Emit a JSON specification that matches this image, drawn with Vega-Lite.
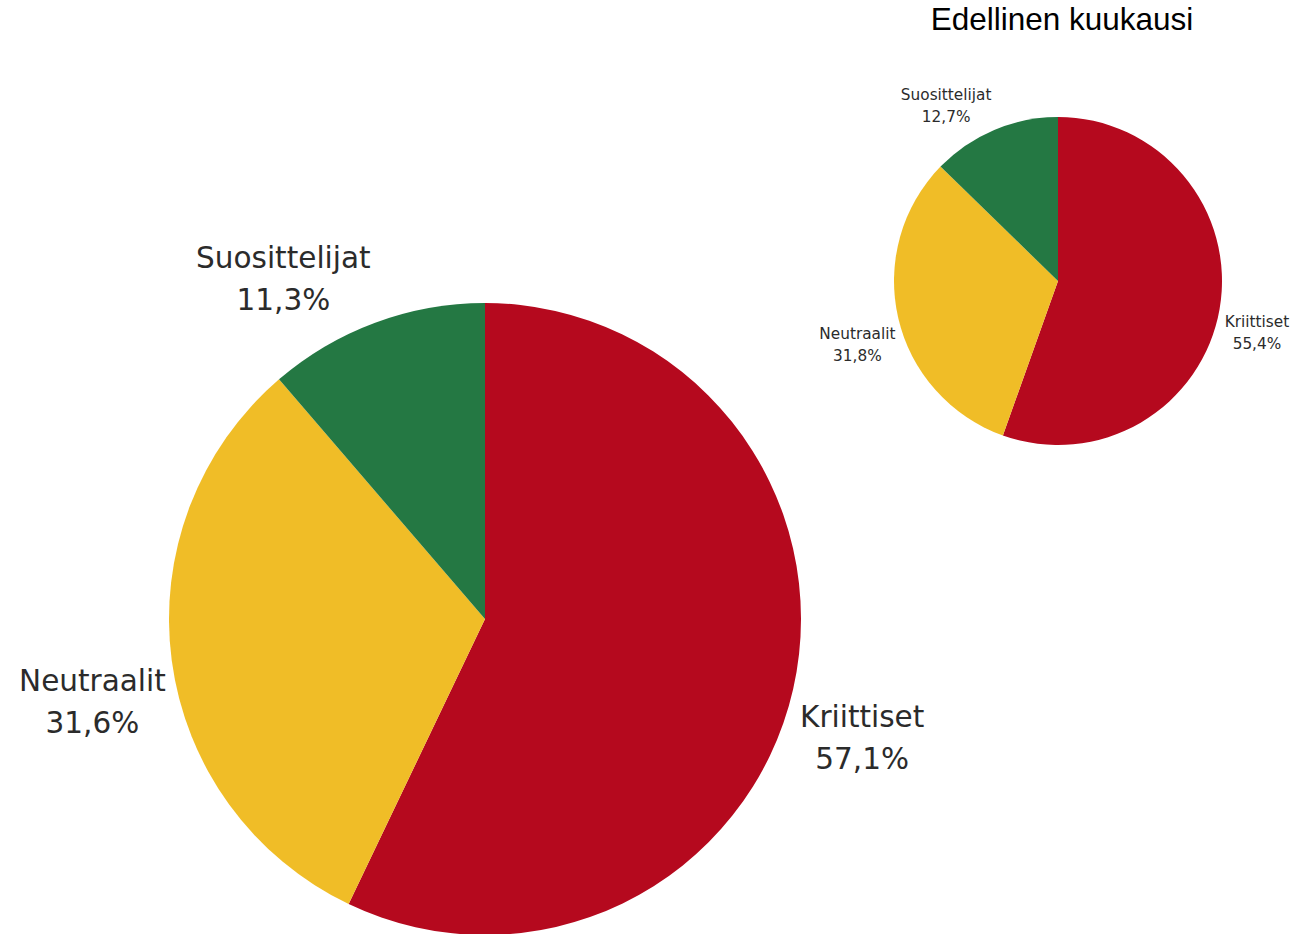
{
  "$schema": "https://vega.github.io/schema/vega-lite/v6.json",
  "width": 1314,
  "height": 934,
  "autosize": {"type": "none"},
  "padding": 0,
  "background": "white",
  "title": {
    "text": "Edellinen kuukausi",
    "anchor": "middle",
    "frame": "group",
    "dx": 405,
    "dy": 28,
    "offset": -33,
    "baseline": "alphabetic",
    "font": "Liberation Sans",
    "fontSize": 31.5,
    "fontWeight": "normal",
    "color": "#000000"
  },
  "data": {
    "values": [
      {"chart": "Nykyinen", "category": "Kriittiset", "value": 57.1, "label": "57,1%"},
      {"chart": "Nykyinen", "category": "Neutraalit", "value": 31.6, "label": "31,6%"},
      {"chart": "Nykyinen", "category": "Suosittelijat", "value": 11.3, "label": "11,3%"},
      {"chart": "Edellinen", "category": "Kriittiset", "value": 55.4, "label": "55,4%"},
      {"chart": "Edellinen", "category": "Neutraalit", "value": 31.8, "label": "31,8%"},
      {"chart": "Edellinen", "category": "Suosittelijat", "value": 12.7, "label": "12,7%"}
    ]
  },
  "encoding": {
    "x": {"field": "chart", "type": "nominal", "scale": {"type": "point", "domain": ["Nykyinen", "Edellinen"], "range": [485, 1058], "padding": 0}, "axis": null},
    "y": {"field": "chart", "type": "nominal", "scale": {"type": "point", "domain": ["Nykyinen", "Edellinen"], "range": [619, 281], "padding": 0}, "axis": null},
    "theta": {"field": "value", "type": "quantitative", "stack": "normalize"},
    "order": {"field": "category", "type": "nominal", "sort": "ascending"}
  },
  "layer": [
    {
      "transform": [{"filter": "datum.chart == 'Nykyinen'"}],
      "mark": {"type": "arc", "outerRadius": 316},
      "encoding": {
        "color": {"field": "category", "type": "nominal", "scale": {"domain": ["Kriittiset", "Neutraalit", "Suosittelijat"], "range": ["#B5091E", "#F0BD27", "#247843"]}, "legend": null}
      }
    },
    {
      "transform": [{"filter": "datum.chart == 'Edellinen'"}],
      "mark": {"type": "arc", "outerRadius": 164},
      "encoding": {
        "color": {"field": "category", "type": "nominal", "legend": null}
      }
    },
    {
      "transform": [{"filter": "datum.chart == 'Nykyinen'"}],
      "mark": {"type": "text", "radius": 396, "dy": 11, "dx": {"expr": "datum.category == 'Suosittelijat' ? -64 : datum.category == 'Kriittiset' ? -9 : 0"}, "font": "DejaVu Sans", "fontSize": 29.5, "color": "#2b2b2b", "align": "center", "baseline": "middle"},
      "encoding": {"text": {"field": "category"}}
    },
    {
      "transform": [{"filter": "datum.chart == 'Nykyinen'"}],
      "mark": {"type": "text", "radius": 396, "dy": 53, "dx": {"expr": "datum.category == 'Suosittelijat' ? -64 : datum.category == 'Kriittiset' ? -9 : 0"}, "font": "DejaVu Sans", "fontSize": 29.5, "color": "#2b2b2b", "align": "center", "baseline": "middle"},
      "encoding": {"text": {"field": "label"}}
    },
    {
      "transform": [{"filter": "datum.chart == 'Edellinen'"}],
      "mark": {"type": "text", "radius": 208, "dy": 6, "dx": {"expr": "datum.category == 'Suosittelijat' ? -31 : datum.category == 'Kriittiset' ? -6 : 2"}, "font": "DejaVu Sans", "fontSize": 15.3, "color": "#2b2b2b", "align": "center", "baseline": "middle"},
      "encoding": {"text": {"field": "category"}}
    },
    {
      "transform": [{"filter": "datum.chart == 'Edellinen'"}],
      "mark": {"type": "text", "radius": 208, "dy": 28, "dx": {"expr": "datum.category == 'Suosittelijat' ? -31 : datum.category == 'Kriittiset' ? -6 : 2"}, "font": "DejaVu Sans", "fontSize": 15.3, "color": "#2b2b2b", "align": "center", "baseline": "middle"},
      "encoding": {"text": {"field": "label"}}
    }
  ],
  "config": {"view": {"stroke": null}}
}
